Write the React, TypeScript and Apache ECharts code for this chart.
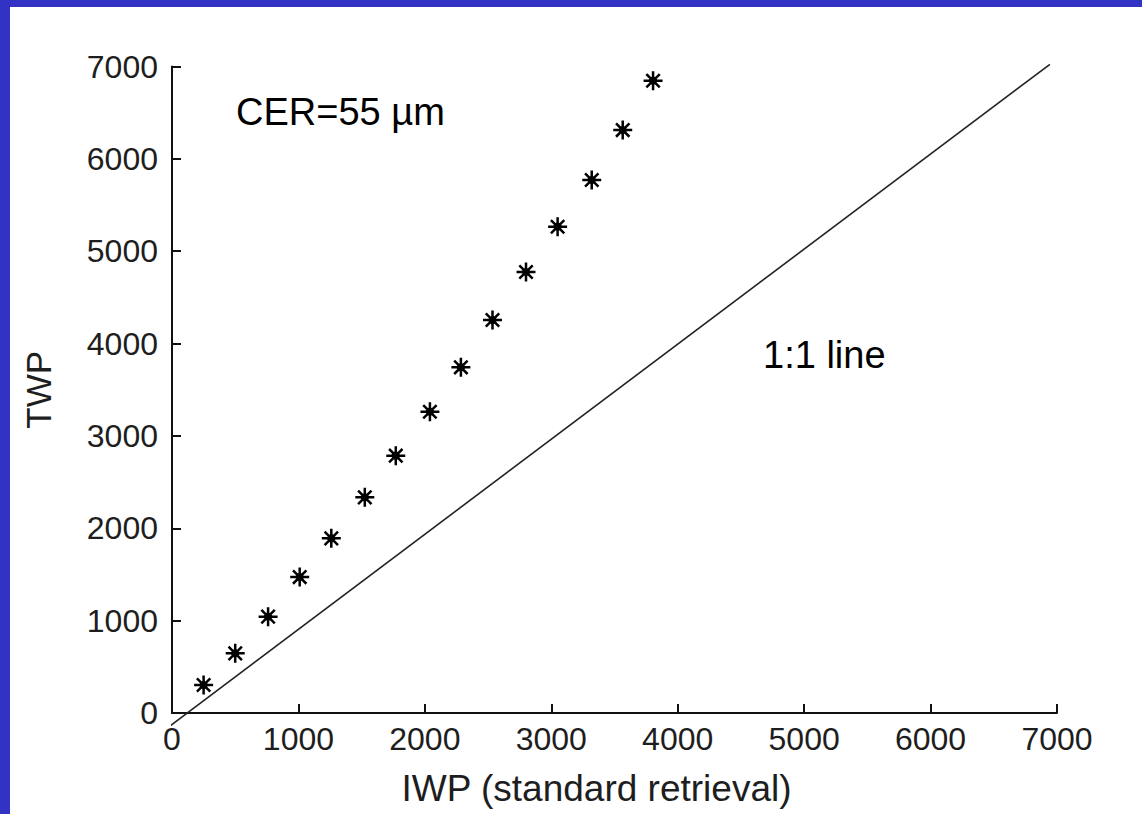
import React, { useEffect, useRef } from "react";
import * as echarts from "echarts";

// Data
const iwpValues = [250, 500, 760, 1010, 1260, 1525, 1770, 2040, 2285, 2535, 2800, 3050, 3320, 3565, 3805];
const twpValues = [303, 646, 1043, 1472, 1891, 2335, 2786, 3262, 3743, 4255, 4775, 5265, 5771, 6312, 6846];
// hand-drawn "1:1" reference line end points (data units)
const oneToOneX = [-111, 6944];
const oneToOneY = [-238, 7024];
const axisMin = 0;
const axisMax = 7000;
const axisStep = 1000;

const STAR =
  "path://M-9.5 0L9.5 0M0 -9.5L0 9.5M-6.7 -6.7L6.7 6.7M-6.7 6.7L6.7 -6.7M-3.6 0L0 -3.6L3.6 0L0 3.6Z";

export default function App() {
  const ref = useRef<HTMLDivElement>(null);
  useEffect(() => {
    const chart = echarts.init(ref.current!, null, { renderer: "svg" });
    const labelStyle = {
      color: "#1e1e1e",
      fontFamily: "Liberation Sans",
      fontSize: 32,
      formatter: (v: number) => String(v),
    };
    const axisCommon = {
      type: "value" as const,
      min: axisMin,
      max: axisMax,
      interval: axisStep,
      splitLine: { show: false },
      axisLine: { show: true, lineStyle: { color: "#111", width: 2 } },
      axisTick: { show: true, inside: true, length: 9, lineStyle: { color: "#111", width: 2 } },
    };
    chart.setOption({
      animation: false,
      backgroundColor: "#ffffff",
      grid: { left: 162, right: 85, top: 59.5, bottom: 101, containLabel: false },
      xAxis: {
        ...axisCommon,
        name: "IWP (standard retrieval)",
        nameLocation: "middle",
        nameGap: 57,
        nameTextStyle: {
          color: "#1e1e1e",
          fontFamily: "Liberation Sans",
          fontSize: 37,
          padding: [0, 36, 0, 0],
        },
        axisLabel: { ...labelStyle, margin: 10 },
      },
      yAxis: {
        ...axisCommon,
        name: "TWP",
        nameLocation: "middle",
        nameRotate: 90,
        nameGap: 116,
        nameTextStyle: { color: "#1e1e1e", fontFamily: "Liberation Sans", fontSize: 35 },
        axisLabel: { ...labelStyle, margin: 14 },
      },
      series: [
        {
          type: "line",
          data: oneToOneX.map((x, i) => [x, oneToOneY[i]]),
          symbol: "none",
          clip: false,
          lineStyle: { color: "#222", width: 1.6 },
          z: 1,
        },
        {
          type: "scatter",
          data: iwpValues.map((x, i) => [x, twpValues[i]]),
          symbol: STAR,
          symbolSize: 19,
          itemStyle: { color: "#000", borderColor: "#000", borderWidth: 2.5, opacity: 1 },
          z: 3,
        },
      ],
      graphic: [
        {
          type: "text",
          left: 226,
          top: 86,
          style: {
            text: "CER=55 µm",
            fill: "#000",
            fontFamily: "Liberation Sans",
            fontSize: 38,
          },
        },
        {
          type: "text",
          left: 753,
          top: 329,
          style: {
            text: "1:1 line",
            fill: "#000",
            fontFamily: "Liberation Sans",
            fontSize: 38,
          },
        },
      ],
    });
    return () => chart.dispose();
  }, []);
  return (
    <div
      style={{
        position: "fixed",
        left: 0,
        top: 0,
        width: 1142,
        height: 814,
        background: "#3232C4",
        overflow: "hidden",
      }}
    >
      <div
        ref={ref}
        style={{ position: "absolute", left: 10, top: 7, width: 1132, height: 807, background: "#fff" }}
      />
    </div>
  );
}
